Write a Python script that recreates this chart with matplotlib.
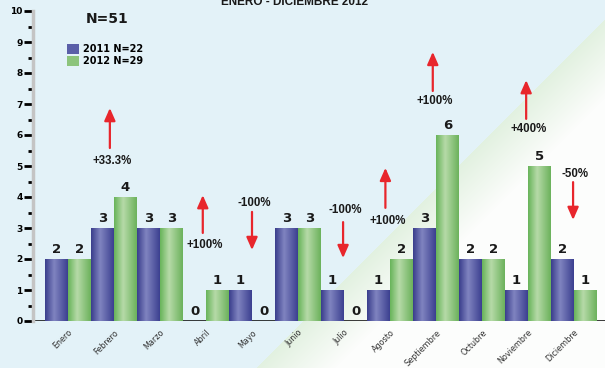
import numpy as np
import matplotlib
matplotlib.use('Agg')
import matplotlib.pyplot as plt

months = ['Enero', 'Febrero', 'Marzo', 'Abril', 'Mayo', 'Junio', 'Julio',
          'Agosto', 'Septiembre', 'Octubre', 'Noviembre', 'Diciembre']
v2011 = [2, 3, 3, 0, 1, 3, 1, 1, 3, 2, 1, 2]
v2012 = [2, 4, 3, 1, 0, 3, 0, 2, 6, 2, 5, 1]
changes = ['', '+33.3%', '', '+100%', '-100%', '', '-100%', '+100%', '+100%', '', '+400%', '-50%']

title = 'ENERO - DICIEMBRE 2012'
total_label = 'N=51'
label_2011 = '2011 N=22'
label_2012 = '2012 N=29'

# arrow placement per month (x offset, tail, tip, text y)
arrow_pos = {
    1: (-0.09, 5.58, 6.87, 5.16),
    3: (-0.07, 2.84, 4.06, 2.45),
    4: (0.0, 3.52, 2.29, 3.80),
    6: (-0.02, 3.19, 2.03, 3.58),
    7: (-0.10, 3.65, 4.94, 3.23),
    8: (-0.07, 7.42, 8.68, 7.10),
    10: (-0.04, 6.52, 7.77, 6.19),
    11: (-0.02, 4.48, 3.26, 4.74),
}

W, H = 605, 368
fig = plt.figure(figsize=(W / 100, H / 100), dpi=100)

# background: light blue with a white diagonal sweep at lower right
bg = fig.add_axes([0, 0, 1, 1], zorder=-1)
yy, xx = np.mgrid[0:H, 0:W]
s = xx + yy - 623.0
blue = np.array([227, 242, 248]) / 255
green = np.array([226, 241, 224]) / 255
white = np.array([252, 253, 252]) / 255
t = np.clip(s / 80.0, 0, 1)[..., None]
img = np.where((s > 0)[..., None], green * (1 - t) + white * t, blue)
bg.imshow(img, extent=[0, W, H, 0], aspect='auto')
bg.axis('off')

ax = fig.add_axes([33 / W, 47 / H, 572 / W, 310 / H])
ax.set_facecolor('none')

x = np.arange(len(months))
b1 = ax.bar(x - 0.25, v2011, width=0.5, color='#5a5fa8', label=label_2011, zorder=2)
b2 = ax.bar(x + 0.25, v2012, width=0.5, color='#8cc47c', label=label_2012, zorder=2)


def shade(c_edge_l, c_mid, c_edge_r):
    p = np.linspace(0, 1, 60)
    cols = [np.interp(p, [0, 0.4, 1], [c_edge_l[k], c_mid[k], c_edge_r[k]]) for k in range(3)]
    return (np.stack(cols, axis=-1)[None, :, :]) / 255


blue_grad = shade((58, 62, 140), (128, 132, 192), (60, 64, 144))
green_grad = shade((104, 180, 90), (182, 218, 168), (108, 178, 92))
for bars, grad in ((b1, blue_grad), (b2, green_grad)):
    for r in bars:
        if r.get_height() <= 0:
            continue
        x0, y0 = r.get_xy()
        ax.imshow(grad, extent=[x0, x0 + r.get_width(), y0, y0 + r.get_height()],
                  aspect='auto', zorder=3, interpolation='bilinear')

ax.axhline(0, color='black', lw=1.8, zorder=1)

for bars in (b1, b2):
    for r in bars:
        h = r.get_height()
        ax.annotate(f'{int(h)}', (r.get_x() + r.get_width() / 2, h),
                    xytext=(0, 4.5), textcoords='offset points',
                    ha='center', va='baseline', fontsize=9.5, fontweight='bold',
                    color='#1a1a1a', zorder=5)

for i, txt in enumerate(changes):
    if not txt:
        continue
    dx, tail, tip, ty = arrow_pos[i]
    ax.annotate('', xy=(i + dx, tip), xytext=(i + dx, tail),
                arrowprops=dict(arrowstyle='-|>,head_length=0.5,head_width=0.22',
                                color='#e8262c', lw=1.6, mutation_scale=15,
                                shrinkA=0, shrinkB=0), zorder=5)
    ax.text(i + dx + 0.05, ty, txt, ha='center', va='center', fontsize=8.3,
            fontweight='bold', family='Liberation Sans', color='#1a1a1a', zorder=5)

ax.set_xlim(-0.761, 11.674)
ax.set_ylim(0, 10)
ax.set_yticks(range(0, 11))
ax.set_yticks(np.arange(0.5, 10, 1), minor=True)
ax.tick_params(axis='y', which='major', length=6.5, width=2, color='black',
               labelsize=6.5, pad=1)
ax.tick_params(axis='y', which='minor', length=3.5, width=2, color='black')
for lab in ax.get_yticklabels():
    lab.set_fontweight('bold')
ax.set_xticks(x)
ax.set_xticklabels(months, rotation=45, ha='right', rotation_mode='anchor',
                   fontsize=5.8, color='#333333')
ax.tick_params(axis='x', length=0, pad=5)
for sp in ('top', 'right', 'bottom'):
    ax.spines[sp].set_visible(False)
ax.spines['left'].set_color('#c4c4c4')
ax.spines['left'].set_linewidth(2.5)

leg = ax.legend(loc='upper left', bbox_to_anchor=(63 / W, 1 - 40 / H),
                bbox_transform=fig.transFigure, frameon=False,
                prop=dict(size=7, weight='bold'), handlelength=1.2,
                handleheight=1.2, labelspacing=0.15, handletextpad=0.5,
                borderaxespad=0)

fig.text(107 / W, 1 - 19 / H, total_label, ha='center', va='center',
         fontsize=10, fontweight='bold', color='#1a1a1a')
fig.text(295 / W, 1 - 5 / H, title, ha='center', va='baseline',
         fontsize=8.5, fontweight='bold', family='Liberation Sans', color='#1a1a1a')

fig.savefig('out.png', dpi=100)
